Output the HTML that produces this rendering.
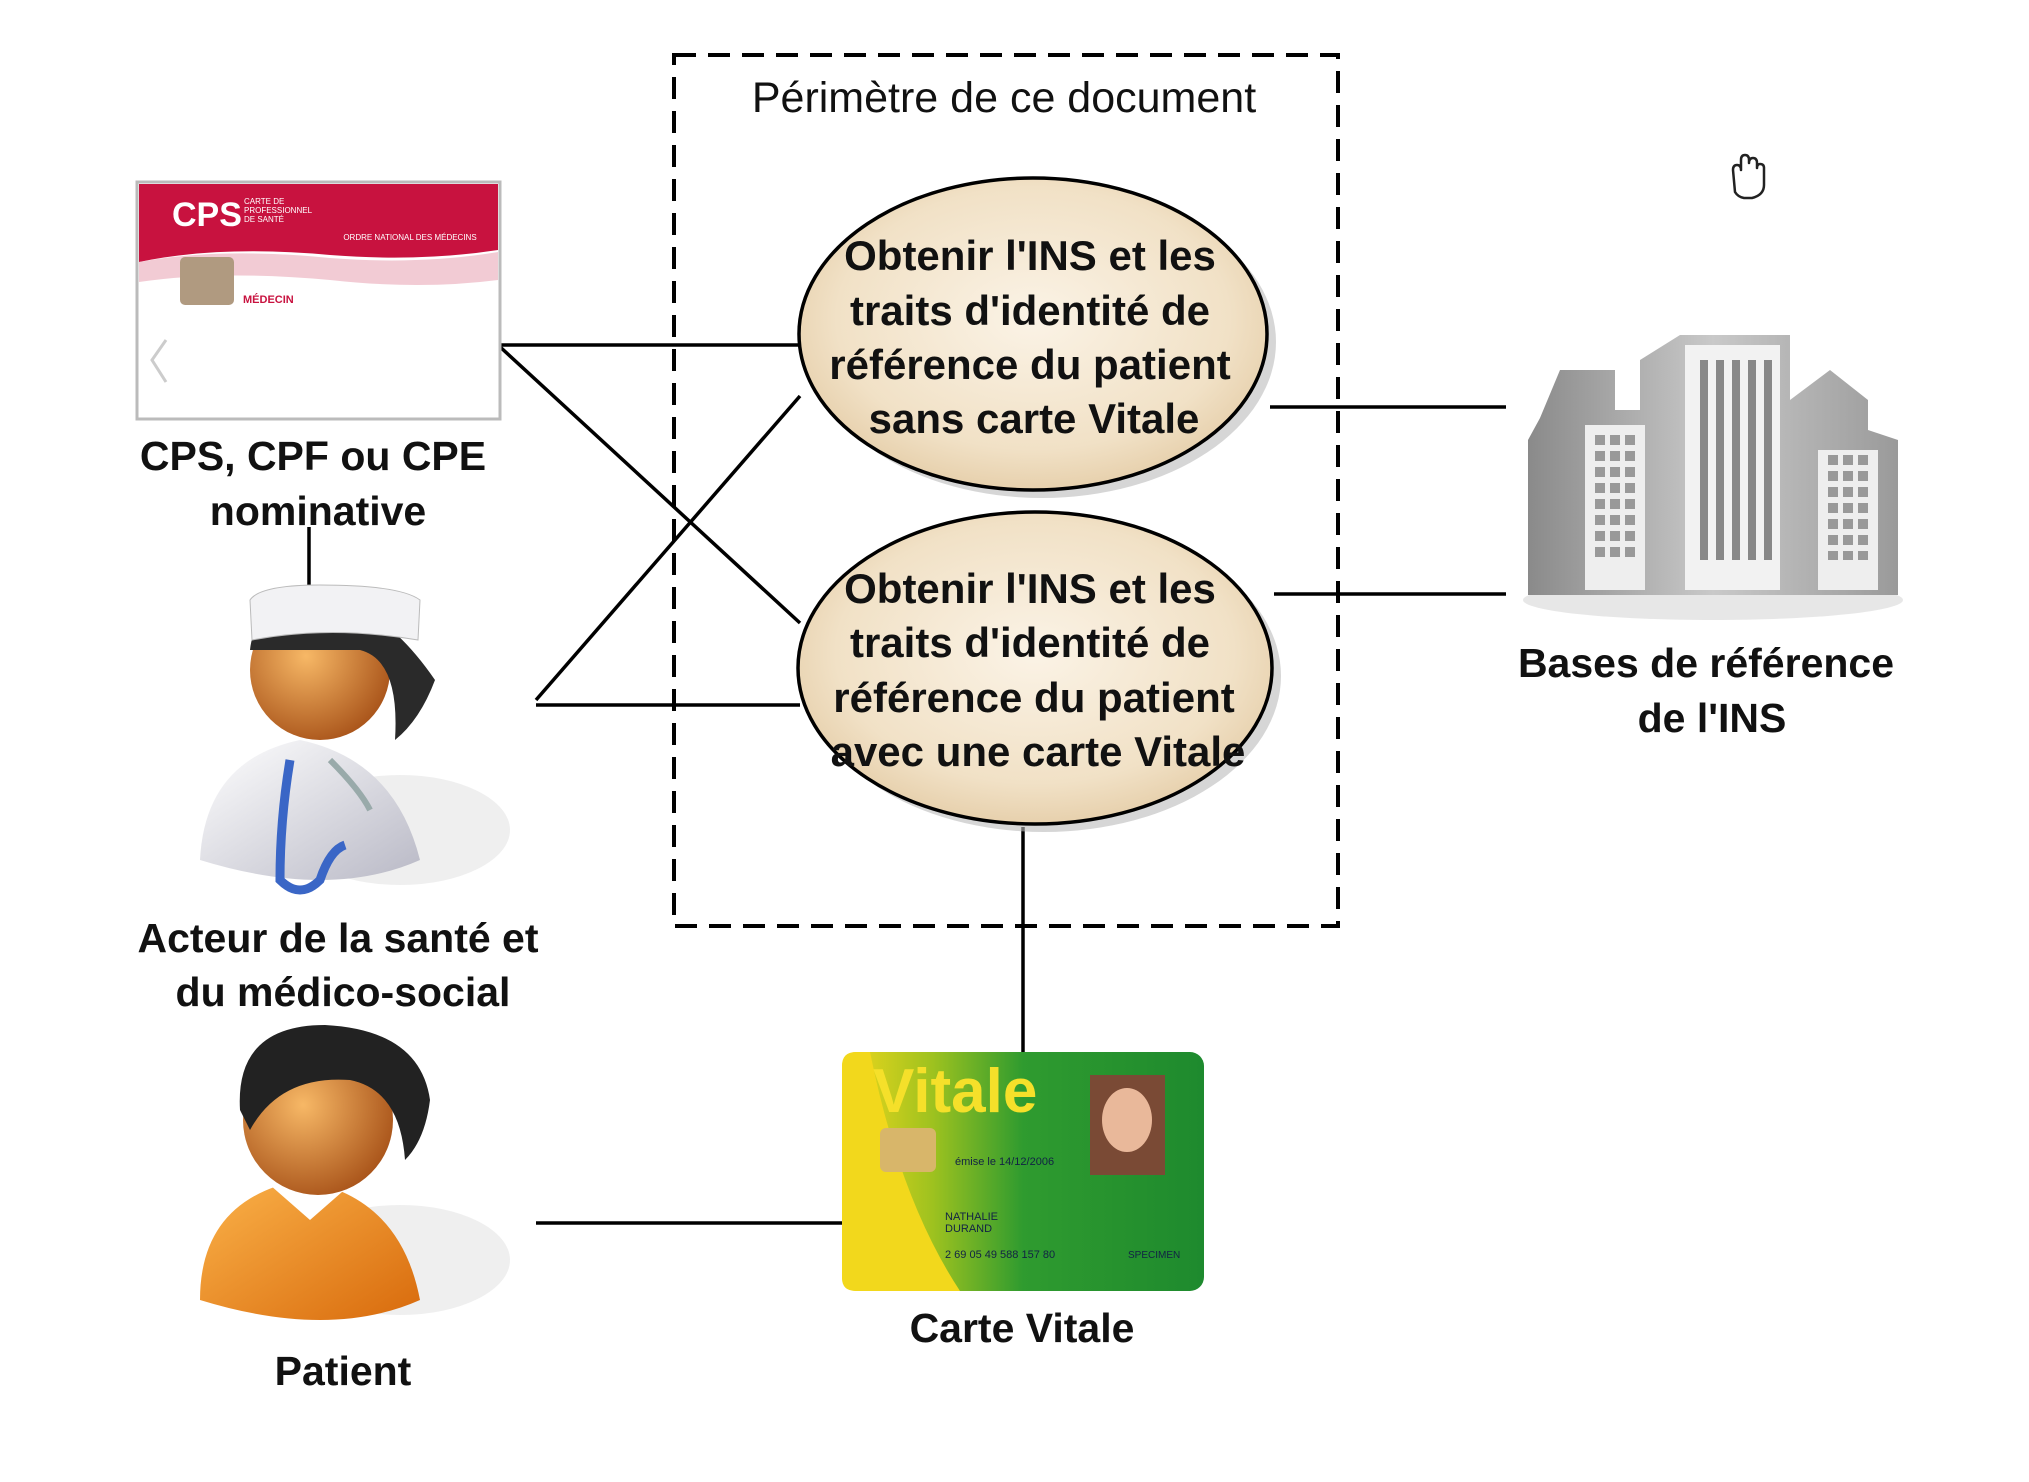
<!DOCTYPE html>
<html><head><meta charset="utf-8"><style>
html,body{margin:0;padding:0;background:#fff;}
svg{display:block;}
text{font-family:"Liberation Sans",sans-serif;}
</style></head><body>
<svg width="2029" height="1482" viewBox="0 0 2029 1482" xmlns="http://www.w3.org/2000/svg">
<defs>
<radialGradient id="eg" cx="50%" cy="45%" r="60%"><stop offset="0" stop-color="#fbf3e6"/><stop offset="0.7" stop-color="#f1e1c6"/><stop offset="1" stop-color="#e3caa3"/></radialGradient>
<radialGradient id="face" cx="40%" cy="40%" r="65%"><stop offset="0" stop-color="#f7b866"/><stop offset="1" stop-color="#a9541a"/></radialGradient>
<linearGradient id="coat" x1="0" y1="0" x2="1" y2="1"><stop offset="0" stop-color="#fff"/><stop offset="1" stop-color="#b9b9c6"/></linearGradient>
<linearGradient id="orange" x1="0" y1="0" x2="1" y2="1"><stop offset="0" stop-color="#fbb34a"/><stop offset="1" stop-color="#d86a0c"/></linearGradient>
<linearGradient id="bld" x1="0" y1="0" x2="1" y2="0"><stop offset="0" stop-color="#8a8a8a"/><stop offset="0.5" stop-color="#c9c9c9"/><stop offset="1" stop-color="#9a9a9a"/></linearGradient>
<linearGradient id="vit" x1="0" y1="0" x2="1" y2="0"><stop offset="0" stop-color="#f2d81c"/><stop offset="0.25" stop-color="#9ec21f"/><stop offset="0.5" stop-color="#2f9b2f"/><stop offset="1" stop-color="#1e8a2e"/></linearGradient>
</defs>

<rect x="674" y="55" width="664" height="871" fill="none" stroke="#000" stroke-width="4" stroke-dasharray="22,12"/>
<text x="1004" y="112" font-size="43" text-anchor="middle" fill="#111">Périmètre de ce document</text>

<g stroke="#000" stroke-width="3.5" fill="none">
<line x1="498" y1="345" x2="798" y2="345"/>
<line x1="498" y1="345" x2="800" y2="623"/>
<line x1="536" y1="700" x2="800" y2="396"/>
<line x1="536" y1="705" x2="800" y2="705"/>
<line x1="309" y1="527" x2="309" y2="598"/>
<line x1="1270" y1="407" x2="1506" y2="407"/>
<line x1="1274" y1="594" x2="1506" y2="594"/>
<line x1="1023" y1="827" x2="1023" y2="1073"/>
<line x1="536" y1="1223" x2="852" y2="1223"/>
</g>

<ellipse cx="1042" cy="342" rx="234" ry="156" fill="#bbb" opacity="0.6"/>
<ellipse cx="1033" cy="334" rx="234" ry="156" fill="url(#eg)" stroke="#000" stroke-width="3.5"/>
<ellipse cx="1044" cy="676" rx="237" ry="156" fill="#bbb" opacity="0.6"/>
<ellipse cx="1035" cy="668" rx="237" ry="156" fill="url(#eg)" stroke="#000" stroke-width="3.5"/>
<g font-size="42" font-weight="bold" text-anchor="middle" fill="#111">
<text x="1030" y="270">Obtenir l'INS et les</text>
<text x="1030" y="325">traits d'identité de</text>
<text x="1030" y="379">référence du patient</text>
<text x="1034" y="433">sans carte Vitale</text>
<text x="1030" y="603">Obtenir l'INS et les</text>
<text x="1030" y="657">traits d'identité de</text>
<text x="1034" y="712">référence du patient</text>
<text x="1038" y="766">avec une carte Vitale</text>
</g>

<rect x="137" y="182" width="363" height="237" fill="#fff" stroke="#bbb" stroke-width="3"/>
<path d="M139 184 H498 V250 Q420 262 330 255 Q220 245 139 262 Z" fill="#c8123f"/>
<path d="M139 262 Q220 247 330 258 Q420 265 498 252 V280 Q420 290 330 280 Q220 270 139 282 Z" fill="#e9a8b8" opacity="0.6"/>
<text x="172" y="226" font-size="34" font-weight="bold" fill="#fff">CPS</text>
<text x="244" y="204" font-size="8" fill="#fff">CARTE DE</text>
<text x="244" y="213" font-size="8" fill="#fff">PROFESSIONNEL</text>
<text x="244" y="222" font-size="8" fill="#fff">DE SANTÉ</text>
<text x="410" y="240" font-size="8" fill="#fff" text-anchor="middle">ORDRE NATIONAL DES MÉDECINS</text>
<rect x="180" y="257" width="54" height="48" rx="5" fill="#b09a80"/>
<text x="243" y="303" font-size="11" fill="#c8123f" font-weight="bold">MÉDECIN</text>
<path d="M166 340 L152 360 L166 382" fill="none" stroke="#ccc" stroke-width="3"/>
<g font-size="41" font-weight="bold" text-anchor="middle" fill="#111">
<text x="313" y="470">CPS, CPF ou CPE</text>
<text x="318" y="525">nominative</text>
</g>

<ellipse cx="400" cy="830" rx="110" ry="55" fill="#e4e4e4" opacity="0.6"/>
<path d="M200 860 Q205 760 300 740 Q395 760 420 860 Q330 900 200 860 Z" fill="url(#coat)"/>
<circle cx="320" cy="670" r="70" fill="url(#face)"/>
<path d="M250 650 Q255 600 320 600 Q380 600 435 680 Q420 720 395 740 Q400 660 360 650 Z" fill="#2a2a2a"/>
<path d="M250 600 Q260 585 320 585 Q400 585 420 600 L418 640 Q330 625 252 640 Z" fill="#f2f2f4" stroke="#bbb"/>
<path d="M290 760 Q280 820 280 880 Q300 900 320 880 Q330 850 345 845" fill="none" stroke="#3a66c6" stroke-width="9"/>
<path d="M330 760 Q360 790 370 810" fill="none" stroke="#9aa" stroke-width="6"/>
<g font-size="41" font-weight="bold" text-anchor="middle" fill="#111">
<text x="338" y="952">Acteur de la santé et</text>
<text x="343" y="1006">du médico-social</text>
</g>

<ellipse cx="400" cy="1260" rx="110" ry="55" fill="#e4e4e4" opacity="0.6"/>
<path d="M200 1300 Q200 1200 300 1180 Q400 1195 420 1300 Q330 1340 200 1300 Z" fill="url(#orange)"/>
<path d="M270 1185 L310 1220 L350 1185 Z" fill="#fff"/>
<circle cx="318" cy="1120" r="75" fill="url(#face)"/>
<path d="M240 1110 Q235 1025 325 1025 Q420 1030 430 1100 Q425 1140 405 1160 Q400 1090 350 1080 Q280 1075 250 1130 Z" fill="#222"/>
<text x="343" y="1385" font-size="41" font-weight="bold" text-anchor="middle" fill="#111">Patient</text>

<rect x="842" y="1052" width="362" height="239" rx="14" fill="url(#vit)"/>
<path d="M842 1180 L842 1278 Q842 1291 856 1291 L960 1291 Q900 1200 870 1052 L856 1052 Q842 1052 842 1066 Z" fill="#f2d81c"/>
<text x="873" y="1112" font-size="62" font-weight="bold" fill="#f5e02a">Vitale</text>
<rect x="880" y="1128" width="56" height="44" rx="6" fill="#d8b66a"/>
<rect x="1090" y="1075" width="75" height="100" fill="#7a4a35"/>
<ellipse cx="1127" cy="1120" rx="25" ry="32" fill="#e9b89a"/>
<text x="955" y="1165" font-size="11" fill="#124">émise le 14/12/2006</text>
<text x="945" y="1220" font-size="11" fill="#124">NATHALIE</text>
<text x="945" y="1232" font-size="11" fill="#124">DURAND</text>
<text x="945" y="1258" font-size="11" fill="#124">2 69 05 49 588 157 80</text>
<text x="1128" y="1258" font-size="10" fill="#124">SPECIMEN</text>
<text x="1022" y="1342" font-size="41" font-weight="bold" text-anchor="middle" fill="#111">Carte Vitale</text>

<ellipse cx="1713" cy="600" rx="190" ry="20" fill="#ddd" opacity="0.7"/>
<path d="M1540 418 L1560 370 L1615 370 L1615 410 L1640 410 L1640 360 L1680 335 L1790 335 L1790 400 L1830 370 L1868 400 L1868 430 L1898 440 L1898 595 L1528 595 L1528 440 Z" fill="url(#bld)"/>
<rect x="1585" y="425" width="60" height="165" fill="#eee"/>
<rect x="1685" y="345" width="95" height="245" fill="#f2f2f2"/>
<rect x="1818" y="450" width="60" height="140" fill="#eee"/>
<g fill="#888">
<rect x="1700" y="360" width="8" height="200"/><rect x="1716" y="360" width="8" height="200"/><rect x="1732" y="360" width="8" height="200"/><rect x="1748" y="360" width="8" height="200"/><rect x="1764" y="360" width="8" height="200"/>
</g>
<g stroke="#999" stroke-width="10" stroke-dasharray="10,6">
<line x1="1600" y1="435" x2="1600" y2="560"/><line x1="1615" y1="435" x2="1615" y2="560"/><line x1="1630" y1="435" x2="1630" y2="560"/>
<line x1="1833" y1="455" x2="1833" y2="560"/><line x1="1848" y1="455" x2="1848" y2="560"/><line x1="1863" y1="455" x2="1863" y2="560"/>
</g>
<g font-size="41" font-weight="bold" text-anchor="middle" fill="#111">
<text x="1706" y="677">Bases de référence</text>
<text x="1712" y="732">de l'INS</text>
</g>

<g fill="#fff" stroke="#222" stroke-width="2.5" stroke-linejoin="round">
<path d="M1735 192 L1733 170 Q1733 165 1737 165 Q1741 165 1741 170 L1741 160 Q1741 155 1745 155 Q1749 155 1749 160 L1749 163 Q1749 158 1753 158 Q1757 158 1757 163 L1757 168 Q1757 164 1760 164 Q1764 164 1764 168 L1764 185 Q1764 195 1752 198 L1744 198 Q1738 197 1735 192 Z"/>
</g>
</svg>
</body></html>
